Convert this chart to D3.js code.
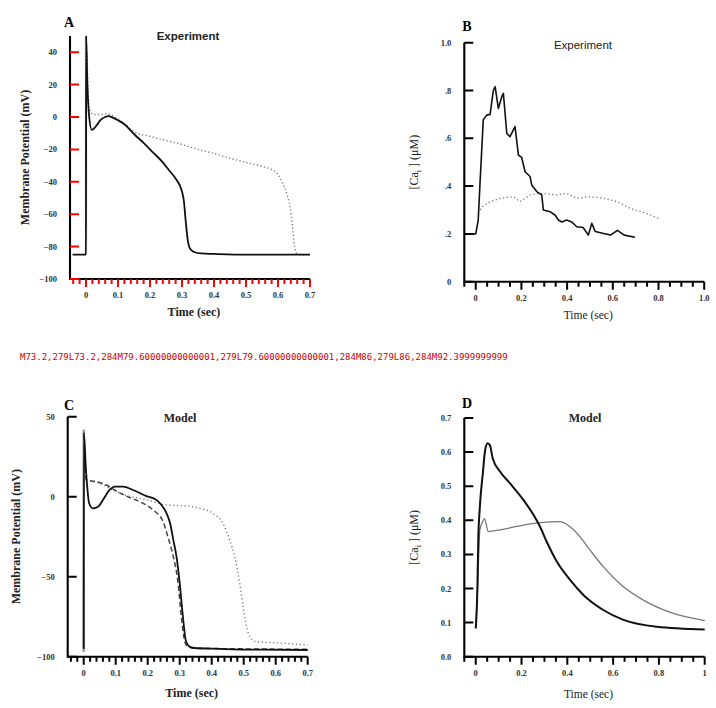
<!DOCTYPE html>
<html lang="en">
<head>
<meta charset="utf-8">
<title>Action potentials and calcium transients</title>
<script src="https://cdn.jsdelivr.net/npm/d3@7"></script>
<style>
  body { margin: 0; background: #fff; }
</style>
</head>
<body>
<script>
// ---- data ----
// Panel A: experiment, membrane potential (mV) vs time (s)
var aSolidT  = [-0.042, 0, 0.0005, 0.004, 0.01, 0.018, 0.03, 0.045, 0.06, 0.07, 0.085, 0.1, 0.12, 0.15, 0.18, 0.21, 0.24, 0.26, 0.28, 0.3, 0.306, 0.311, 0.318, 0.326, 0.34, 0.36, 0.4, 0.5, 0.6, 0.7];
var aSolidV  = [-85, -85, 50, 22, 0, -8, -6, -2, 0, 0.5, -0.5, -2, -4.5, -10.5, -16, -22, -28, -33, -38, -46, -52, -63, -76, -81.5, -83.5, -84.2, -84.5, -85, -85, -85];
var aDotT    = [0.003, 0.01, 0.025, 0.045, 0.065, 0.09, 0.12, 0.15, 0.2, 0.25, 0.3, 0.35, 0.4, 0.45, 0.5, 0.55, 0.58, 0.6, 0.615, 0.627, 0.637, 0.645, 0.652, 0.66, 0.68, 0.7];
var aDotV    = [40, 5, 1.5, 1.5, 2, 0, -4, -9, -12, -14.5, -17, -20, -22.5, -25.5, -28, -30.5, -32.5, -35.5, -41, -47, -55, -67, -80, -84.5, -85, -85];
var aStimT   = [0, 0];
var aStimV   = [-85, 50];

// Panel B: experiment, [Ca]i (uM) vs time (s)
var bSolidT  = [-0.05, 0, 0.011, 0.018, 0.033, 0.048, 0.063, 0.077, 0.085, 0.099, 0.114, 0.121, 0.136, 0.15, 0.172, 0.187, 0.201, 0.216, 0.238, 0.245, 0.267, 0.289, 0.296, 0.325, 0.347, 0.362, 0.377, 0.398, 0.42, 0.442, 0.47, 0.493, 0.508, 0.523, 0.56, 0.59, 0.62, 0.65, 0.697];
var bSolidV  = [0.2, 0.2, 0.258, 0.397, 0.677, 0.697, 0.70, 0.80, 0.816, 0.725, 0.774, 0.788, 0.62, 0.607, 0.649, 0.53, 0.52, 0.46, 0.44, 0.405, 0.377, 0.363, 0.30, 0.293, 0.279, 0.258, 0.25, 0.258, 0.25, 0.23, 0.227, 0.195, 0.244, 0.21, 0.202, 0.195, 0.215, 0.195, 0.186];
var bDotT    = [0.02, 0.03, 0.063, 0.107, 0.165, 0.194, 0.238, 0.282, 0.355, 0.398, 0.442, 0.5, 0.56, 0.62, 0.675, 0.748, 0.8];
var bDotV    = [0.3, 0.314, 0.335, 0.349, 0.356, 0.335, 0.363, 0.37, 0.363, 0.37, 0.349, 0.356, 0.349, 0.335, 0.307, 0.286, 0.265];

// Panel C: model, membrane potential (mV)
var cSolidT  = [0, 0.0005, 0.007, 0.011, 0.017, 0.029, 0.045, 0.06, 0.081, 0.097, 0.123, 0.154, 0.196, 0.227, 0.243, 0.259, 0.27, 0.28, 0.29, 0.3, 0.31, 0.32, 0.337, 0.4, 0.466, 0.55, 0.7];
var cSolidV  = [-95, 40, 16.7, 6.3, -4.1, -7.3, -6.3, -2, 4.2, 6.3, 6.3, 4.2, 0.4, -2, -5.2, -10.4, -16.6, -27, -37.5, -54, -75, -90.6, -94.4, -95, -95.4, -95.6, -95.8];
var cDashT   = [0.001, 0.008, 0.04, 0.071, 0.097, 0.133, 0.175, 0.217, 0.248, 0.263, 0.28, 0.295, 0.305, 0.32, 0.362, 0.45, 0.55, 0.7];
var cDashV   = [38, 10.4, 9.4, 7.3, 4.2, 0.4, -3.1, -8.3, -15.6, -25, -37.5, -54, -75, -92.7, -94.8, -95, -95.2, -95.4];
var cDotT    = [0.003, 0.011, 0.05, 0.092, 0.13, 0.175, 0.217, 0.259, 0.32, 0.363, 0.404, 0.435, 0.456, 0.472, 0.4875, 0.503, 0.519, 0.54, 0.6, 0.7];
var cDotV    = [30, 10.4, 8.3, 4.2, 1, -1, -3.1, -5.2, -5.8, -7.3, -10.4, -16.6, -27, -37.5, -54, -75, -87.5, -90.6, -91.3, -92.7];
var cStimT   = [0, 0];
var cStimV   = [-97, 42];

// Panel D: model, [Ca]i (uM)
var dSolidT  = [0, 0.007, 0.011, 0.018, 0.031, 0.041, 0.052, 0.062, 0.074, 0.106, 0.15, 0.208, 0.252, 0.281, 0.31, 0.354, 0.412, 0.47, 0.557, 0.645, 0.79, 1.0];
var dSolidV  = [0.083, 0.196, 0.342, 0.44, 0.538, 0.606, 0.626, 0.62, 0.582, 0.543, 0.508, 0.46, 0.416, 0.381, 0.337, 0.279, 0.225, 0.181, 0.137, 0.108, 0.088, 0.08];
var dGreyT   = [0, 0.008, 0.018, 0.033, 0.038, 0.055, 0.106, 0.208, 0.281, 0.368, 0.412, 0.455, 0.499, 0.557, 0.645, 0.732, 0.863, 1.0];
var dGreyV   = [0.083, 0.2, 0.372, 0.4, 0.405, 0.367, 0.372, 0.386, 0.393, 0.396, 0.381, 0.352, 0.313, 0.264, 0.205, 0.166, 0.127, 0.106];

// tick values and labels
var vmTicksA   = [-100, -80, -60, -40, -20, 0, 20, 40];
var vmTicksC   = [-100, -50, 0, 50];
var caTicksB   = [0, 0.2, 0.4, 0.6, 0.8, 1.0];
var caLabelsB  = ["0", ".2", ".4", ".6", ".8", "1.0"];
var caTicksD   = [0, 0.1, 0.2, 0.3, 0.4, 0.5, 0.6, 0.7];
var tTicksShort = [0, 0.1, 0.2, 0.3, 0.4, 0.5, 0.6, 0.7];
var tTicksLong  = [0, 0.2, 0.4, 0.6, 0.8, 1.0];
var tLabelsB    = ["0", "0.2", "0.4", "0.6", "0.8", "1.0"];
var tLabelsD    = ["0", "0.2", "0.4", "0.6", "0.8", "1"];

function pts(t, v) { return t.map(function(d, i) { return [d, v[i]]; }); }
function minors(a, b, step) {
  var out = [];
  for (var i = 0; a + i * step <= b + 1e-9; i++) out.push(+(a + i * step).toFixed(4));
  return out;
}

var w = 716, h = 708;
var svg = d3.select("body").append("svg").attr("width", w).attr("height", h);
var serif = "Liberation Serif, DejaVu Serif, serif";

var panels = [
  { letter: "A", lx: 69, ly: 27, title: "Experiment", tx: 188, ty: 40, tBold: true, tFont: "Liberation Sans", tSize: 11.5,
    xDom: [-0.05, 0.7], xRange: [70, 310], yDom: [-100, 50], yRange: [279, 36],
    xMajor: tTicksShort, xMinor: minors(-0.04, 0.7, 0.02), xFmt: function(d) { return d === 0 ? "0" : d3.format(".1f")(d); },
    yTicks: vmTicksA, yFmt: d3.format("d"),
    xLabel: "Time (sec)", xlBold: true, xly: 316, yLabel: "Membrane Potential (mV)", ylx: 25, ylBold: true,
    series: [
      { data: pts(aStimT, aStimV), color: "#999", width: 2.2, dash: null, curve: d3.curveLinear },
      { data: pts(aDotT, aDotV), color: "#777", width: 1.4, dash: "1.2,2.4", curve: d3.curveMonotoneX },
      { data: pts(aSolidT, aSolidV), color: "#111", width: 1.8, dash: null, curve: d3.curveMonotoneX }
    ] },
  { letter: "B", lx: 467, ly: 31, title: "Experiment", tx: 583, ty: 49, tBold: false, tFont: "Liberation Sans", tSize: 11.5,
    xDom: [-0.05, 1.0], xRange: [464.3, 704.2], yDom: [0, 1], yRange: [281.7, 42.7],
    xMajor: tTicksLong, xMinor: minors(-0.05, 1.0, 0.05), xFmt: function(d, i) { return tLabelsB[i]; },
    yTicks: caTicksB, yFmt: function(d, i) { return caLabelsB[i]; },
    xLabel: "Time (sec)", xlBold: false, xly: 319, yLabel: "ca", ylx: 414, ylBold: false,
    series: [
      { data: pts(bDotT, bDotV), color: "#777", width: 1.4, dash: "1.2,2.6", curve: d3.curveLinear },
      { data: pts(bSolidT, bSolidV), color: "#111", width: 1.6, dash: null, curve: d3.curveLinear }
    ] },
  { letter: "C", lx: 69, ly: 410, title: "Model", tx: 180, ty: 422, tBold: true, tFont: "Liberation Serif", tSize: 12,
    xDom: [-0.05, 0.7], xRange: [67.7, 307.7], yDom: [-100, 50], yRange: [656.7, 416.7],
    xMajor: tTicksShort, xMinor: minors(-0.04, 0.7, 0.02), xFmt: function(d) { return d === 0 ? "0" : d3.format(".1f")(d); },
    yTicks: vmTicksC, yFmt: d3.format("d"),
    xLabel: "Time (sec)", xlBold: true, xly: 697, yLabel: "Membrane Potential (mV)", ylx: 16, ylBold: true,
    series: [
      { data: pts(cStimT, cStimV), color: "#999", width: 2.4, dash: null, curve: d3.curveLinear },
      { data: pts(cDotT, cDotV), color: "#777", width: 1.4, dash: "1.2,2.6", curve: d3.curveMonotoneX },
      { data: pts(cDashT, cDashV), color: "#444", width: 1.5, dash: "5,3", curve: d3.curveMonotoneX },
      { data: pts(cSolidT, cSolidV), color: "#111", width: 1.8, dash: null, curve: d3.curveMonotoneX }
    ] },
  { letter: "D", lx: 467, ly: 408, title: "Model", tx: 585, ty: 422, tBold: true, tFont: "Liberation Serif", tSize: 12,
    xDom: [-0.05, 1.0], xRange: [464.3, 704.7], yDom: [0, 0.7], yRange: [656.7, 418],
    xMajor: tTicksLong, xMinor: minors(-0.05, 1.0, 0.05), xFmt: function(d, i) { return tLabelsD[i]; },
    yTicks: caTicksD, yFmt: d3.format(".1f"),
    xLabel: "Time (sec)", xlBold: false, xly: 698, yLabel: "ca", ylx: 414, ylBold: false,
    series: [
      { data: pts(dGreyT, dGreyV), color: "#777", width: 1.3, dash: null, curve: d3.curveMonotoneX },
      { data: pts(dSolidT, dSolidV), color: "#111", width: 2, dash: null, curve: d3.curveMonotoneX }
    ] }
];

var probe = [];

panels.forEach(function(p, pi) {
  var x = d3.scaleLinear().domain(p.xDom).range(p.xRange);
  var y = d3.scaleLinear().domain(p.yDom).range(p.yRange);
  var g = svg.append("g");
  var yBase = p.yRange[0], xBase = p.xRange[0];

  p.series.forEach(function(s) {
    var line = d3.line().x(function(d) { return x(d[0]); }).y(function(d) { return y(d[1]); }).curve(s.curve);
    g.append("path").datum(s.data)
      .attr("d", line)
      .attr("fill", "none")
      .attr("stroke", s.color)
      .attr("stroke-width", s.width)
      .attr("stroke-dasharray", s.dash)
      .attr("stroke-linejoin", "round");
  });

  // axis frame
  g.append("path").attr("d", "M" + xBase + "," + p.yRange[1] + "V" + yBase + "H" + p.xRange[1])
    .attr("fill", "none").attr("stroke", "black").attr("stroke-width", 2.1);

  // tick marks: x ticks hang down, y ticks point inward
  var tk = d3.path();
  p.xMinor.forEach(function(d) { tk.moveTo(x(d), yBase); tk.lineTo(x(d), yBase + 5); });
  p.xMajor.forEach(function(d) { tk.moveTo(x(d), yBase); tk.lineTo(x(d), yBase + 8); });
  p.yTicks.forEach(function(d) { tk.moveTo(xBase, y(d)); tk.lineTo(xBase + 9, y(d)); });
  var tkd = tk.toString();
  if (pi === 0) probe.push(tkd.slice(0, 90));
  g.append("path").attr("d", tkd)
    .attr("fill", "none").attr("stroke", pi === 0 ? "red" : "black").attr("stroke-width", 2);

  // tick labels
  g.selectAll("text.xlab").data(p.xMajor).enter().append("text")
    .attr("x", function(d) { return x(d); }).attr("y", yBase + 19)
    .attr("text-anchor", "middle").attr("font-family", serif).attr("font-size", 8.5)
    .attr("font-weight", "bold").attr("fill", "#333").text(p.xFmt);
  g.selectAll("text.ylab").data(p.yTicks).enter().append("text")
    .attr("x", xBase - 13).attr("y", function(d) { return y(d) + 3; })
    .attr("text-anchor", "end").attr("font-family", serif).attr("font-size", 8.5)
    .attr("font-weight", "bold").attr("fill", "#333").text(p.yFmt);

  // panel letter and title
  g.append("text").attr("x", p.lx).attr("y", p.ly).attr("text-anchor", "middle")
    .attr("font-family", serif).attr("font-size", 14).attr("font-weight", "bold").text(p.letter);
  g.append("text").attr("x", p.tx).attr("y", p.ty).attr("text-anchor", "middle")
    .attr("font-family", p.tFont).attr("font-size", p.tSize)
    .attr("font-weight", p.tBold ? "bold" : "normal").attr("fill", "#222").text(p.title);

  // x label
  g.append("text").attr("x", (p.xRange[0] + p.xRange[1]) / 2 + 4).attr("y", p.xly).attr("text-anchor", "middle")
    .attr("font-family", serif).attr("font-size", p.xlBold ? 12 : 11.5)
    .attr("font-weight", p.xlBold ? "bold" : "normal").attr("fill", "#222")
    .text(p.xLabel);

  // y label
  var cy = (p.yRange[0] + p.yRange[1]) / 2;
  var yl = g.append("text").attr("transform", "translate(" + p.ylx + "," + cy + ") rotate(-90)")
    .attr("text-anchor", "middle").attr("dy", "0.35em").attr("font-family", serif)
    .attr("font-size", 12).attr("font-weight", p.ylBold ? "bold" : "normal").attr("fill", "#222");
  if (p.yLabel === "ca") {
    yl.append("tspan").text("[Ca");
    yl.append("tspan").attr("font-size", 8).attr("dy", 3).text("i");
    yl.append("tspan").attr("dy", -3).text(" ] (\u03bcM)");
  } else {
    yl.text(p.yLabel);
  }
});

// temporary probe of the tick path string
svg.append("text").attr("x", 20).attr("y", 360).attr("font-family", "DejaVu Sans Mono").attr("font-size", 9)
  .attr("fill", "#c00").text(probe[0]);
</script>
</body>
</html>
